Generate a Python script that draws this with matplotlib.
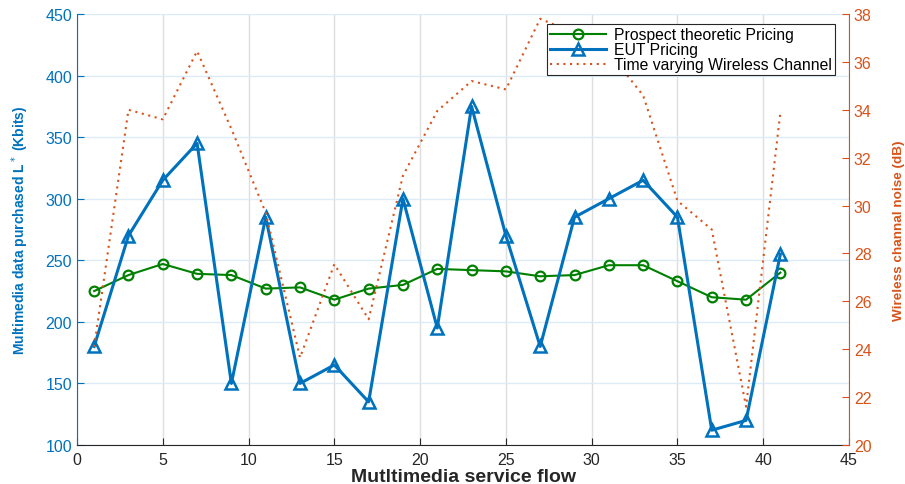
import matplotlib
matplotlib.use("Agg")
import matplotlib.pyplot as plt

flows = [1, 3, 5, 7, 9, 11, 13, 15, 17, 19, 21, 23, 25, 27, 29, 31, 33, 35, 37, 39, 41]
pt_pricing = [225, 238, 247, 239, 238, 227, 228, 218, 227, 230, 243, 242, 241, 237, 238, 246, 246, 233, 220, 218, 240]
eut_pricing = [180, 270, 315, 345, 150, 285, 150, 165, 135, 300, 195, 375, 270, 180, 285, 300, 315, 285, 112, 120, 255]
channel_noise = [24.1, 34.0, 33.6, 36.45, 33.2, 29.7, 23.65, 27.55, 25.25, 31.25, 33.95, 35.2, 34.85, 37.8, 37.2, 36.4, 34.6, 30.2, 29.0, 21.6, 33.9]

xticks = [0, 5, 10, 15, 20, 25, 30, 35, 40, 45]
left_ticks = [100, 150, 200, 250, 300, 350, 400, 450]
right_ticks = [20, 22, 24, 26, 28, 30, 32, 34, 36, 38]

BLUE = "#0072BD"
GREEN = "#008000"
ORANGE = "#D95319"
DARK = "#262626"

plt.rcParams['font.family'] = ['Liberation Sans', 'DejaVu Sans']

fig = plt.figure(figsize=(9.05, 4.85), dpi=100)
ax = fig.add_axes([77/905, 1-446/485, 772/905, 431/485])
ax2 = ax.twinx()

# grid
ax.set_axisbelow(True)
for xv in xticks:
    ax.axvline(xv, color="#dedede", lw=1.0, zorder=0)
for yv in left_ticks:
    ax.axhline(yv, color="#dcebf6", lw=1.0, zorder=0)

l1, = ax.plot(flows, pt_pricing, color=GREEN, lw=1.5, marker='o', ms=7,
              mfc='none', mec=GREEN, mew=1.6, zorder=3)
l2, = ax.plot(flows, eut_pricing, color=BLUE, lw=2.2, marker='^', ms=9,
              mfc='none', mec=BLUE, mew=1.8, zorder=3)
l3, = ax2.plot(flows, channel_noise, color=ORANGE, lw=1.5, ls=(0, (1, 2.2)), zorder=2)

ax.set_xlim(0, 45)
ax.set_ylim(100, 450)
ax2.set_ylim(20, 38)
ax.set_xticks(xticks)
ax.set_yticks(left_ticks)
ax2.set_yticks(right_ticks)

for a in (ax, ax2):
    a.spines['top'].set_visible(False)
ax.spines['left'].set_color(BLUE)
ax.spines['right'].set_visible(False)
ax.spines['bottom'].set_color(DARK)
ax2.spines['left'].set_visible(False)
ax2.spines['bottom'].set_visible(False)
ax2.spines['right'].set_color(ORANGE)

ax.tick_params(axis='x', direction='in', length=5, color=DARK, labelcolor=DARK, labelsize=11.5, pad=5)
ax.tick_params(axis='y', direction='in', length=5, color=BLUE, labelcolor=BLUE, labelsize=11.5)
ax2.tick_params(axis='y', direction='in', length=5, color=ORANGE, labelcolor=ORANGE, labelsize=11.5)

ax.set_xlabel("Mutltimedia service flow", fontsize=14, fontweight='bold', color=DARK, labelpad=1)
ax.set_ylabel("Multimedia data purchased L$^*$ (Kbits)", fontsize=10, fontweight='bold',
              color=BLUE, family=['Liberation Sans Narrow', 'Liberation Sans'], labelpad=10)
ax2.set_ylabel("Wireless channal noise (dB)", fontsize=9.7, fontweight='bold',
               color=ORANGE, family=['Liberation Sans Narrow', 'Liberation Sans'], labelpad=15)

leg = ax2.legend([l1, l2, l3], ["Prospect theoretic Pricing", "EUT Pricing", "Time varying Wireless Channel"],
                 loc='upper right', bbox_to_anchor=(0.982, 0.977), borderaxespad=0,
                 fontsize=11.3, handlelength=3.6, frameon=True, fancybox=False,
                 edgecolor=DARK, framealpha=1, labelspacing=0.0, borderpad=0.2, handletextpad=0.5)
leg.get_frame().set_linewidth(0.8)
leg.set_zorder(10)

fig.savefig("out.png", dpi=100)
